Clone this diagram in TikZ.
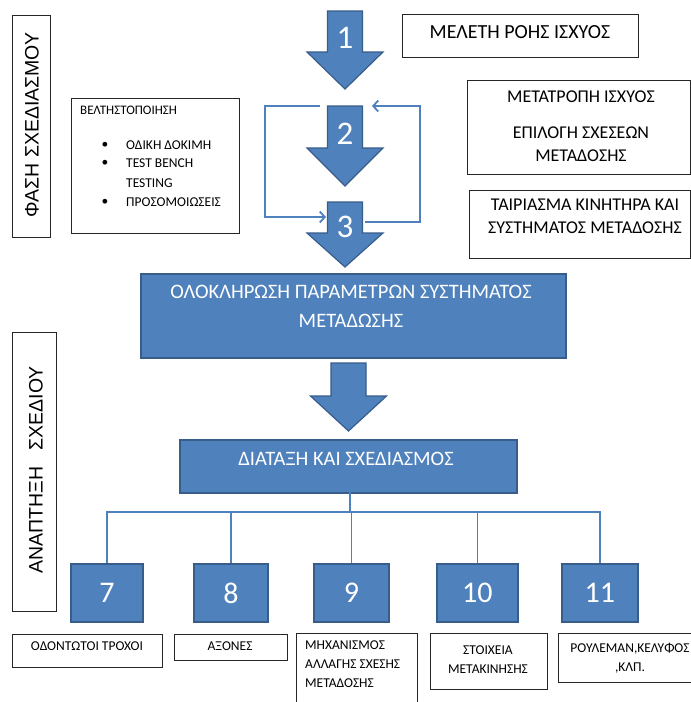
\documentclass[tikz,border=0pt]{standalone}
\usepackage{fontspec}
\setmainfont{Carlito}
\newfontfamily\arialfont{Liberation Sans}
\usetikzlibrary{arrows.meta}

\definecolor{officeblue}{HTML}{4F81BD}
\definecolor{officeedge}{HTML}{385D8A}

\tikzset{
  plainbox/.style={draw=black!85, line width=1.2pt, fill=white, inner sep=0pt, anchor=north west},
  bluebox/.style={draw=officeedge, line width=1.8pt, fill=officeblue, inner sep=0pt, anchor=north west},
  whitetext/.style={text=white, font=\fontsize{20.5}{29}\selectfont, align=center, inner sep=0pt},
  numtext/.style={text=white, font=\fontsize{33}{33}\selectfont, inner sep=0pt},
  boxnum/.style={text=white, font=\fontsize{30}{30}\selectfont},
  titletext/.style={font=\fontsize{13}{19}\selectfont, inner sep=0pt},
  smalltext/.style={font=\fontsize{13.5}{19}\selectfont, inner sep=0pt},
  midtext/.style={font=\fontsize{18}{23}\selectfont, align=center, inner sep=0pt},
  phasetext/.style={font=\arialfont\fontsize{19.5}{19.5}\selectfont, rotate=90, inner sep=0pt},
  loopline/.style={draw=officeblue, line width=1.8pt, -{Straight Barb[length=5pt,width=11pt]}},
  treeline/.style={draw=officeblue, line width=1.8pt},
}

% #1 name, #2 x, #3 top, #4 head start, #5 tip, #6 number y, #7 number
\newcommand{\blockarrow}[7]{%
  \filldraw[fill=officeblue, draw=officeedge, line width=1.2pt]
    (#2-17.5,#3) -- (#2+17.5,#3) -- (#2+17.5,#4) -- (#2+38,#4) -- (#2,#5)
    -- (#2-38,#4) -- (#2-17.5,#4) -- cycle;
  \node[numtext] (#1) at (#2,#6) {#7};
}

\begin{document}
\begin{tikzpicture}[x=1pt, y=-1pt]
  \fill[white] (0,0) rectangle (691,702);
  \clip (0,0) rectangle (691,702);

  % design phase
  \node[plainbox, minimum width=38, minimum height=222] (phase) at (12,15) {};
  \node[phasetext] (phasetxt) at (32,125) {ΦΑΣΗ ΣΧΕΔΙΑΣΜΟΥ};

  \node[plainbox, minimum width=168, minimum height=135] (optim) at (71,98) {};
  \node[titletext, anchor=west] (optimtitle) at (80,110) {ΒΕΛΤΗΣΤΟΠΟΙΗΣΗ};
  \node[smalltext] (bul1) at (105,145) {\textbullet};
  \node[smalltext] (bul2) at (105,163) {\textbullet};
  \node[smalltext] (bul3) at (105,202) {\textbullet};
  \node[smalltext, anchor=west] (item1) at (126,145) {ΟΔΙΚΗ ΔΟΚΙΜΗ};
  \node[smalltext, anchor=west] (item2) at (126,163) {TEST BENCH};
  \node[smalltext, anchor=west] (item2b) at (126,183) {TESTING};
  \node[smalltext, anchor=west] (item3) at (126,202) {ΠΡΟΣΟΜΟΙΩΣΕΙΣ};

  \blockarrow{step1}{345}{11}{52}{89}{38}{1}
  \blockarrow{step2}{345}{106}{148}{186}{134}{2}
  \blockarrow{step3}{345}{202}{233}{267}{227}{3}

  \node[plainbox, minimum width=236, minimum height=43] (flow) at (402,14) {};
  \node[font=\fontsize{20}{20}\selectfont, inner sep=0pt] (flowtxt) at (520,32) {ΜΕΛΕΤΗ ΡΟΗΣ ΙΣΧΥΟΣ};

  \node[plainbox, minimum width=223, minimum height=94] (conv) at (467,80) {};
  \node[midtext] (convtxt) at (581,97) {ΜΕΤΑΤΡΟΠΗ ΙΣΧΥΟΣ};
  \node[midtext] (ratiotxt) at (581,144.5) {ΕΠΙΛΟΓΗ ΣΧΕΣΕΩΝ\\ΜΕΤΑΔΟΣΗΣ};

  \node[plainbox, minimum width=221, minimum height=68] (match) at (469,190) {};
  \node[midtext] (matchtxt) at (585,216.5) {ΤΑΙΡΙΑΣΜΑ ΚΙΝΗΤΗΡΑ ΚΑΙ\\ΣΥΣΤΗΜΑΤΟΣ ΜΕΤΑΔΟΣΗΣ};

  % feedback loop between 2 and 3
  \coordinate (loopA) at (320,106);
  \coordinate (loopB) at (326,217);
  \coordinate (loopC) at (365,222);
  \coordinate (loopD) at (372,106);
  \draw[loopline] (loopA) -- ++(-55,0) |- (loopB);
  \draw[loopline] (loopC) -- ++(55,0) |- (loopD);

  \node[bluebox, minimum width=425, minimum height=84] (params) at (140,273) {};
  \node[whitetext] (paramstxt) at (351,306.5) {ΟΛΟΚΛΗΡΩΣΗ ΠΑΡΑΜΕΤΡΩΝ ΣΥΣΤΗΜΑΤΟΣ\\ΜΕΤΑΔΩΣΗΣ};

  \blockarrow{step4}{348.5}{363}{396}{431}{396}{}

  % design development
  \node[plainbox, minimum width=44, minimum height=279] (devel) at (12,332) {};
  \node[phasetext] (develtxt) at (36,470) {ΑΝΑΠΤΗΞΗ\ \ \ ΣΧΕΔΙΟΥ};

  \node[bluebox, minimum width=337, minimum height=53] (layout) at (179,439) {};
  \node[whitetext] (layouttxt) at (346,459) {ΔΙΑΤΑΞΗ ΚΑΙ ΣΧΕΔΙΑΣΜΟΣ};

  \node[bluebox, boxnum, minimum width=72, minimum height=58] (b7) at (70,563) {7};
  \node[bluebox, boxnum, minimum width=74, minimum height=58] (b8) at (193,563) {8};
  \node[bluebox, boxnum, minimum width=75, minimum height=58] (b9) at (313,563) {9};
  \node[bluebox, boxnum, minimum width=81, minimum height=58] (b10) at (436,563) {10};
  \node[bluebox, boxnum, minimum width=76, minimum height=58] (b11) at (561,563) {11};

  \coordinate (hub) at (350,512);
  \draw[treeline] (hub |- layout.center) -- (hub);
  \foreach \b in {b7,b8,b9,b10,b11}
    \draw[treeline] (hub) -| (\b.north);

  \node[plainbox, minimum width=150, minimum height=33] (gears) at (12,634) {};
  \node[smalltext] (gearstxt) at (87,646) {ΟΔΟΝΤΩΤΟΙ ΤΡΟΧΟΙ};
  \node[plainbox, minimum width=113, minimum height=26] (shafts) at (174,634) {};
  \node[smalltext] (shaftstxt) at (230,646) {ΑΞΟΝΕΣ};
  \node[plainbox, minimum width=121, minimum height=80] (shift) at (296,633) {};
  \node[smalltext, align=left, anchor=north west] (shifttxt) at (305,641) {ΜΗΧΑΝΙΣΜΟΣ\\ΑΛΛΑΓΗΣ ΣΧΕΣΗΣ\\ΜΕΤΑΔΟΣΗΣ};
  \node[plainbox, minimum width=117, minimum height=56] (motion) at (430,633) {};
  \node[smalltext, align=center] (motiontxt) at (488,659.5) {ΣΤΟΙΧΕΙΑ\\ΜΕΤΑΚΙΝΗΣΗΣ};
  \node[plainbox, minimum width=145, minimum height=49] (bearings) at (558,633) {};
  \node[smalltext, align=center] (bearingstxt) at (630,658) {ΡΟΥΛΕΜΑΝ,ΚΕΛΥΦΟΣ\\,ΚΛΠ.};
\end{tikzpicture}
\end{document}
